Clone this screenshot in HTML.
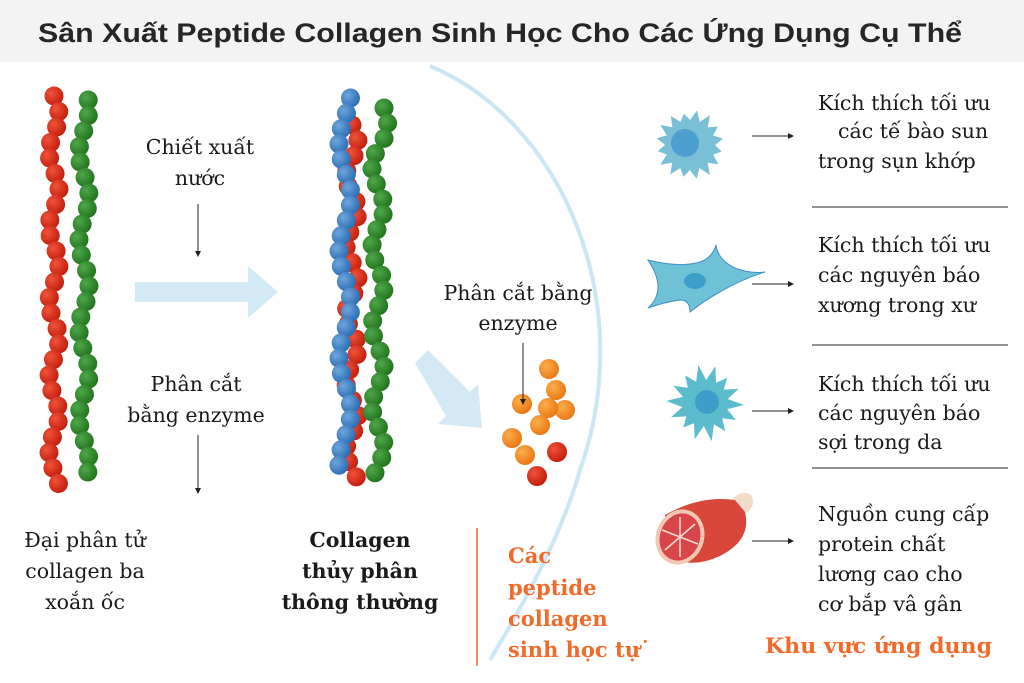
<!DOCTYPE html>
<html><head><meta charset="utf-8"><style>
html,body{margin:0;padding:0;background:#fff}
svg{display:block}
.s{font-family:"DejaVu Serif","Liberation Serif",serif;font-size:20.5px;fill:#1a1a1a}
.o{font-family:"DejaVu Serif","Liberation Serif",serif;font-size:21px;font-weight:bold;fill:#f26a2a}
</style></head><body>
<svg id="sv" width="1024" height="683" viewBox="0 0 1024 683" xmlns="http://www.w3.org/2000/svg">
<defs>
<radialGradient id="gr" cx="35%" cy="35%" r="65%"><stop offset="0" stop-color="#f0533a"/><stop offset="1" stop-color="#c4200f"/></radialGradient>
<radialGradient id="gg" cx="35%" cy="35%" r="65%"><stop offset="0" stop-color="#4fa84a"/><stop offset="1" stop-color="#24751f"/></radialGradient>
<radialGradient id="gb" cx="35%" cy="35%" r="65%"><stop offset="0" stop-color="#6ea6de"/><stop offset="1" stop-color="#2f6fb5"/></radialGradient>
<radialGradient id="go" cx="35%" cy="35%" r="65%"><stop offset="0" stop-color="#fbae4a"/><stop offset="1" stop-color="#ea7a18"/></radialGradient>
</defs>
<rect x="0" y="0" width="1024" height="62" fill="#f3f3f3"/>
<text x="500" y="42" text-anchor="middle" font-family="Liberation Sans, sans-serif" font-weight="bold" font-size="27" fill="#262626" textLength="924" lengthAdjust="spacingAndGlyphs">Sân Xuất Peptide Collagen Sinh Học Cho Các Ứng Dụng Cụ Thể</text>

<path d="M430 66 C 560 120, 640 300, 580 470 C 560 540, 520 610, 490 660" fill="none" stroke="#cde6f4" stroke-width="4"/>

<g id="beads"></g>

<polygon points="135,282 248,282 248,266 278,292 248,318 248,302 135,302" fill="#d3eaf6"/>
<polygon points="415,363 428,350 470,392 478,384 482,428 438,424 446,416" fill="#d3eaf6"/>

<text class="s" text-anchor="middle" x="200" y="154">Chiết xuất</text>
<text class="s" text-anchor="middle" x="200" y="185">nước</text>
<line x1="198" y1="204" x2="198" y2="252" stroke="#222" stroke-width="1"/>
<polygon points="195,251 201,251 198,257" fill="#222"/>
<text class="s" text-anchor="middle" x="196" y="391">Phân cắt</text>
<text class="s" text-anchor="middle" x="196" y="422">bằng enzyme</text>
<line x1="198" y1="435" x2="198" y2="489" stroke="#222" stroke-width="1"/>
<polygon points="195,488 201,488 198,494" fill="#222"/>

<text class="s" text-anchor="middle" x="85" y="547">Đại phân tử</text>
<text class="s" text-anchor="middle" x="85" y="578">collagen ba</text>
<text class="s" text-anchor="middle" x="85" y="609">xoắn ốc</text>
<text class="s" text-anchor="middle" x="360" y="547" font-weight="bold">Collagen</text>
<text class="s" text-anchor="middle" x="360" y="578" font-weight="bold">thủy phân</text>
<text class="s" text-anchor="middle" x="360" y="609" font-weight="bold">thông thường</text>

<text class="s" text-anchor="middle" x="518" y="300">Phân cắt bằng</text>
<text class="s" text-anchor="middle" x="518" y="330">enzyme</text>
<line x1="523" y1="343" x2="523" y2="400" stroke="#222" stroke-width="1"/>
<polygon points="520,399 526,399 523,405" fill="#222"/>

<line x1="477" y1="528" x2="477" y2="666" stroke="#f26a2a" stroke-width="1.5"/>
<text class="o" x="508" y="563">Các</text>
<text class="o" x="508" y="595">peptide</text>
<text class="o" x="508" y="626">collagen</text>
<text class="o" x="508" y="657">sinh học tự˙</text>

<g id="cells"></g>
<g>
<path d="M732 500 Q742 488 752 496 Q756 508 744 514 L730 512 Z" fill="#f1dccb"/>
<path d="M665 515 Q700 495 735 500 L745 512 Q752 540 720 556 Q690 570 665 555 Z" fill="#d8473a"/>
<ellipse cx="680" cy="537" rx="24" ry="28" transform="rotate(20 680 537)" fill="#f2c8b2"/>
<ellipse cx="680" cy="537" rx="20" ry="24" transform="rotate(20 680 537)" fill="#d9464a"/>
<path d="M680 517 L680 557 M662 530 L698 544 M665 550 L695 524" stroke="#f6dcd0" stroke-width="1.5" fill="none"/>
</g>

<g stroke="#222" stroke-width="1">
<line x1="752" y1="136" x2="789" y2="136"/><line x1="752" y1="284" x2="789" y2="284"/>
<line x1="752" y1="411" x2="789" y2="411"/><line x1="752" y1="541" x2="789" y2="541"/>
<line x1="812" y1="207" x2="1008" y2="207"/><line x1="812" y1="345" x2="1008" y2="345"/><line x1="812" y1="468" x2="1008" y2="468"/>
</g>
<g fill="#222">
<polygon points="788,133 794,136 788,139"/><polygon points="788,281 794,284 788,287"/>
<polygon points="788,408 794,411 788,414"/><polygon points="788,538 794,541 788,544"/>
</g>

<text class="s" x="818" y="110">Kích thích tối ưu</text>
<text class="s" x="838" y="138">các tế bào sun</text>
<text class="s" x="818" y="168">trong sụn khớp</text>
<text class="s" x="818" y="252">Kích thích tối ưu</text>
<text class="s" x="818" y="282">các nguyên báo</text>
<text class="s" x="818" y="312">xương trong xư</text>
<text class="s" x="818" y="391">Kích thích tối ưu</text>
<text class="s" x="818" y="420">các nguyên báo</text>
<text class="s" x="818" y="449">sợi trong da</text>
<text class="s" x="818" y="521">Nguồn cung cấp</text>
<text class="s" x="818" y="551">protein chất</text>
<text class="s" x="818" y="581">lương cao cho</text>
<text class="s" x="818" y="611">cơ bắp vâ gân</text>
<text class="o" x="765" y="653" font-size="24" textLength="227" lengthAdjust="spacingAndGlyphs">Khu vực ứng dụng</text>
</svg>
<script>
var NS="http://www.w3.org/2000/svg";
function c(g,x,y,r,f){var e=document.createElementNS(NS,"circle");e.setAttribute("cx",x);e.setAttribute("cy",y);e.setAttribute("r",r);e.setAttribute("fill",f);g.appendChild(e);}
var b=document.getElementById("beads");
for(var i=0;i<26;i++){var y=96+i*15.5;c(b,54+5*Math.sin(i*1.3),y,9.5,"url(#gr)");}
for(var i=0;i<25;i++){var y=100+i*15.5;c(b,84+5*Math.sin(i*1.1+1),y,9.5,"url(#gg)");}
for(var i=0;i<24;i++){var y=125+i*15.3;c(b,352+6*Math.sin(i*1.4),y,9.5,"url(#gr)");}
for(var i=0;i<25;i++){var y=100+i*15.2;c(b,378+6*Math.sin(i*1.2)+(i<4?6-i*2:0),y+8,9.5,"url(#gg)");}
for(var i=0;i<25;i++){var y=98+i*15.3;c(b,345+6*Math.sin(i*0.9+2),y,9.5,"url(#gb)");}
var o=[[549,369,"go"],[556,390,"go"],[522,404,"go"],[565,410,"go"],[548,408,"go"],[540,425,"go"],[512,438,"go"],[525,455,"go"],[557,452,"gr"],[537,476,"gr"]];
o.forEach(function(p){c(b,p[0],p[1],10,"url(#"+p[2]+")");});
var g=document.getElementById("cells");
function spiky(cx,cy,r,n,sp,col,seed){var d="";for(var i=0;i<n*2;i++){var a=i*Math.PI/n+seed;var rr=(i%2==0)?r+sp*(0.5+0.5*Math.abs(Math.sin(i*2.7+seed))):r-2;d+=(i?"L":"M")+(cx+rr*Math.cos(a)).toFixed(1)+" "+(cy+rr*Math.sin(a)).toFixed(1);}
var e=document.createElementNS(NS,"path");e.setAttribute("d",d+"Z");e.setAttribute("fill",col);e.setAttribute("stroke-linejoin","round");g.appendChild(e);}
spiky(690,145,27,16,9,"#79bfd6",0.2);c(g,685,143,14,"#4d9fcf");
spiky(705,403,25,14,14,"#5cbccd",0.5);c(g,707,402,12,"#3e9ec8");
var e=document.createElementNS(NS,"path");e.setAttribute("d","M648 260 Q680 268 700 262 Q712 258 716 245 Q718 260 735 268 Q750 274 765 272 Q740 280 720 292 Q705 300 690 312 Q690 300 680 300 Q665 302 648 308 Q668 290 648 260Z");e.setAttribute("fill","#6fc1d6");e.setAttribute("stroke","#3f8fc9");e.setAttribute("stroke-width","1");g.appendChild(e);
var n=document.createElementNS(NS,"ellipse");n.setAttribute("cx",695);n.setAttribute("cy",281);n.setAttribute("rx",11);n.setAttribute("ry",8);n.setAttribute("fill","#3d9fc8");g.appendChild(n);
</script>
</body></html>
